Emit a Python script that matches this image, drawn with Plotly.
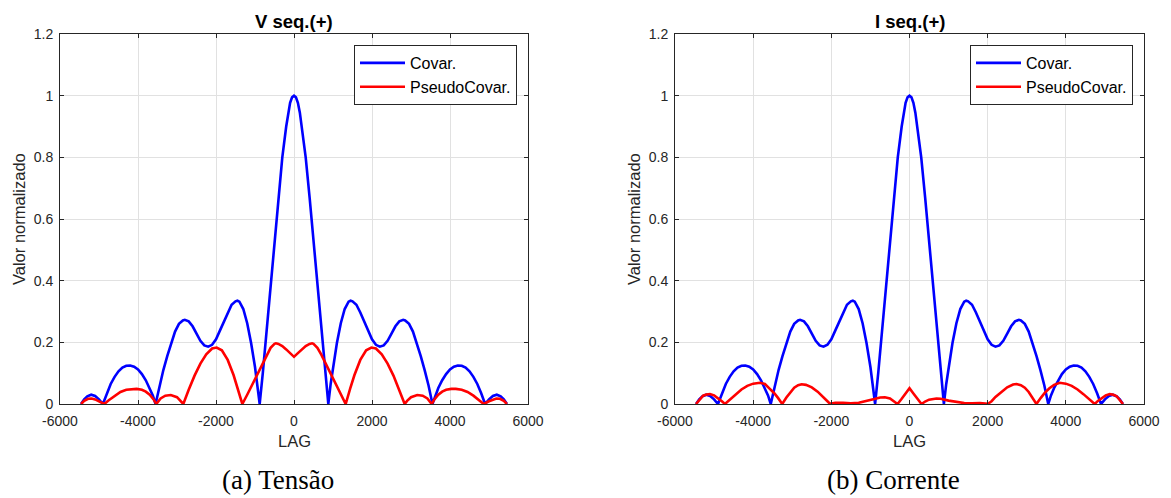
import plotly.graph_objects as go

# ---------------- data ----------------
# Covar. (same in both panels)
covar_lag = [-5460, -5380, -5300, -5200, -5100, -5000, -4900, -4800, -4700, -4600, -4500, -4400,
             -4300, -4200, -4100, -4000, -3900, -3800, -3700, -3620, -3550, -3450, -3350, -3250,
             -3150, -3050, -2950, -2850, -2800, -2700, -2600, -2500, -2400, -2300, -2200, -2100,
             -2000, -1900, -1800, -1700, -1600, -1500, -1450, -1400, -1300, -1200, -1100, -1000,
             -940, -880, -800, -700, -600, -500, -400, -300, -200, -150, -100, -50, 0,
             50, 100, 150, 200, 300, 400, 500, 600, 700, 800, 880, 940, 1000, 1100, 1200, 1300,
             1400, 1450, 1500, 1600, 1700, 1800, 1900, 2000, 2100, 2200, 2300, 2400, 2500, 2600,
             2700, 2800, 2850, 2950, 3050, 3150, 3250, 3350, 3450, 3550, 3620, 3700, 3800, 3900,
             4000, 4100, 4200, 4300, 4400, 4500, 4600, 4700, 4800, 4900, 5000, 5100, 5200, 5300,
             5380, 5460]
covar_val = [0, 0.015, 0.025, 0.03, 0.026, 0.015, 0, 0.035, 0.065, 0.088, 0.106, 0.118,
             0.124, 0.125, 0.121, 0.112, 0.097, 0.077, 0.052, 0.028, 0, 0.06, 0.11, 0.155,
             0.198, 0.235, 0.26, 0.271, 0.273, 0.268, 0.252, 0.228, 0.205, 0.19, 0.186, 0.192,
             0.21, 0.238, 0.267, 0.297, 0.322, 0.333, 0.335, 0.332, 0.308, 0.262, 0.198, 0.12,
             0.065, 0, 0.1, 0.245, 0.39, 0.53, 0.67, 0.8, 0.9, 0.945, 0.977, 0.995, 1.0,
             0.995, 0.977, 0.945, 0.9, 0.8, 0.67, 0.53, 0.39, 0.245, 0.1, 0, 0.065, 0.12, 0.198, 0.262, 0.308,
             0.332, 0.335, 0.333, 0.322, 0.297, 0.267, 0.238, 0.21, 0.192, 0.186, 0.19, 0.205, 0.228, 0.252,
             0.268, 0.273, 0.271, 0.26, 0.235, 0.198, 0.155, 0.11, 0.06, 0, 0.028, 0.052, 0.077, 0.097,
             0.112, 0.121, 0.125, 0.124, 0.118, 0.106, 0.088, 0.065, 0.035, 0, 0.015, 0.026, 0.03, 0.025,
             0.015, 0]

# PseudoCovar. - V seq.(+)
pseudo_v_lag = [-5460, -5380, -5280, -5190, -5100, -5000, -4864, -4750, -4600, -4450, -4300, -4150,
                -4034, -3900, -3800, -3700, -3600, -3530, -3420, -3300, -3160, -3000, -2900, -2838,
                -2700, -2550, -2400, -2250, -2100, -1983, -1850, -1700, -1550, -1440, -1325, -1200,
                -1050, -900, -800, -700, -600, -500, -462, -400, -300, -200, -100, 0,
                100, 200, 300, 400, 462, 500, 600, 700, 800, 900, 1050, 1200, 1325, 1440, 1550,
                1700, 1850, 1983, 2100, 2250, 2400, 2550, 2700, 2838, 2900, 3000, 3160, 3300, 3420,
                3530, 3600, 3700, 3800, 3900, 4034, 4150, 4300, 4450, 4600, 4750, 4864, 5000, 5100,
                5190, 5280, 5380, 5460]
pseudo_v_val = [0, 0.01, 0.017, 0.018, 0.015, 0.009, 0, 0.012, 0.027, 0.039, 0.046, 0.049,
                0.049, 0.046, 0.04, 0.03, 0.015, 0, 0.018, 0.027, 0.029, 0.022, 0.01, 0,
                0.046, 0.092, 0.131, 0.161, 0.18, 0.183, 0.174, 0.143, 0.094, 0.05, 0, 0.03,
                0.068, 0.108, 0.135, 0.16, 0.182, 0.195, 0.197, 0.195, 0.188, 0.177, 0.165, 0.153,
                0.165, 0.177, 0.188, 0.195, 0.197, 0.195, 0.182, 0.16, 0.135, 0.108, 0.068, 0.03, 0, 0.05, 0.094,
                0.143, 0.174, 0.183, 0.18, 0.161, 0.131, 0.092, 0.046, 0, 0.01, 0.022, 0.029, 0.027, 0.018,
                0, 0.015, 0.03, 0.04, 0.046, 0.049, 0.049, 0.046, 0.039, 0.027, 0.012, 0, 0.009, 0.015,
                0.018, 0.017, 0.01, 0]

# PseudoCovar. - I seq.(+)
pseudo_i_lag = [-5463, -5380, -5280, -5200, -5105, -5000, -4900, -4800, -4722, -4600, -4450, -4300,
                -4150, -4000, -3827, -3700, -3580, -3460, -3360, -3257, -3150, -3050, -2950, -2850,
                -2760, -2650, -2500, -2350, -2200, -2100, -2037, -1900, -1700, -1500, -1300, -1100,
                -900, -750, -630, -500, -400, -306, -200, -100, 0,
                100, 200, 307, 400, 500, 690, 800, 1000, 1200, 1400, 1600, 1800, 2011, 2100, 2200,
                2350, 2500, 2650, 2737, 2850, 2950, 3050, 3150, 3248, 3360, 3460, 3580, 3700, 3844,
                4000, 4150, 4300, 4450, 4600, 4739, 4820, 4920, 5020, 5122, 5220, 5300, 5390, 5463]
pseudo_i_val = [0, 0.014, 0.027, 0.031, 0.032, 0.028, 0.019, 0.009, 0, 0.014, 0.032, 0.047,
                0.059, 0.066, 0.069, 0.065, 0.05, 0.035, 0.019, 0, 0.021, 0.039, 0.053, 0.061,
                0.064, 0.062, 0.054, 0.04, 0.023, 0.009, 0.001, 0.004, 0.004, 0.002, 0.004, 0.009,
                0.016, 0.021, 0.022, 0.018, 0.01, 0, 0.017, 0.034, 0.051,
                0.034, 0.017, 0, 0.008, 0.014, 0.018, 0.017, 0.011, 0.006, 0.003, 0.002, 0.003, 0.001, 0.009, 0.023,
                0.04, 0.054, 0.063, 0.065, 0.061, 0.053, 0.039, 0.021, 0, 0.02, 0.036, 0.051, 0.062, 0.069,
                0.066, 0.059, 0.047, 0.032, 0.015, 0, 0.01, 0.02, 0.028, 0.032, 0.03, 0.025, 0.013, 0]

panel_titles = ["V seq.(+)", "I seq.(+)"]
captions = ["(a) Tensão", "(b) Corrente"]
series_names = ["Covar.", "PseudoCovar."]
x_ticks = [-6000, -4000, -2000, 0, 2000, 4000, 6000]
x_ticktext = ["-6000", "-4000", "-2000", "0", "2000", "4000", "6000"]
y_ticks = [0, 0.2, 0.4, 0.6, 0.8, 1.0, 1.2]
y_ticktext = ["0", "0.2", "0.4", "0.6", "0.8", "1", "1.2"]

# ---------------- figure ----------------
W, H = 1171, 498
SANS = "Liberation Sans, Arial, sans-serif"
AX = "#262626"
BLUE = "#0000ff"
RED = "#ff0000"

fig = go.Figure()

panels = [
    dict(xa="x", ya="y", legend="legend", pseudo=(pseudo_v_lag, pseudo_v_val)),
    dict(xa="x2", ya="y2", legend="legend2", pseudo=(pseudo_i_lag, pseudo_i_val)),
]
for p in panels:
    fig.add_trace(go.Scatter(x=covar_lag, y=covar_val, mode="lines", name=series_names[0],
                             line=dict(color=BLUE, width=2.6), xaxis=p["xa"], yaxis=p["ya"],
                             legend=p["legend"]))
    fig.add_trace(go.Scatter(x=p["pseudo"][0], y=p["pseudo"][1], mode="lines", name=series_names[1],
                             line=dict(color=RED, width=2.6), xaxis=p["xa"], yaxis=p["ya"],
                             legend=p["legend"]))

# pixel geometry
left_px = [(60, 528), (675, 1144)]
top_px, bot_px = 34, 404

def px_x(v):
    return v / W

def px_y(v):
    return 1 - v / H

axis_common = dict(showline=True, linecolor=AX, linewidth=1, mirror="allticks",
                   ticks="inside", ticklen=4, tickcolor=AX, showgrid=True,
                   gridcolor="#e1e1e1", gridwidth=1, zeroline=False, automargin=False,
                   tickfont=dict(family=SANS, size=14, color=AX))

layout_axes = {}
for i, (l, r) in enumerate(left_px):
    sx = "" if i == 0 else "2"
    layout_axes["xaxis" + sx] = dict(axis_common, domain=[px_x(l), px_x(r)], range=[-6000, 6000],
                                     tickvals=x_ticks, ticktext=x_ticktext,
                                     ticklabelstandoff=4, anchor="y" + sx)
    layout_axes["yaxis" + sx] = dict(axis_common, domain=[px_y(bot_px), px_y(top_px)], range=[0, 1.2],
                                     tickvals=y_ticks, ticktext=y_ticktext,
                                     ticklabelstandoff=3, anchor="x" + sx)

annotations = []
for i, (l, r) in enumerate(left_px):
    cx = (l + r) / 2
    annotations.append(dict(text="<b>%s</b>" % panel_titles[i], x=px_x(cx), y=px_y(22),
                            xref="paper", yref="paper", showarrow=False, xanchor="center", yanchor="middle",
                            font=dict(family=SANS, size=18.5, color="#000000")))
    annotations.append(dict(text="LAG", x=px_x(cx), y=px_y(441),
                            xref="paper", yref="paper", showarrow=False, xanchor="center", yanchor="middle",
                            font=dict(family=SANS, size=16.5, color=AX)))
    annotations.append(dict(text="Valor normalizado", x=px_x(l - 41), y=px_y((top_px + bot_px) / 2),
                            xref="paper", yref="paper", showarrow=False, textangle=-90,
                            xanchor="center", yanchor="middle",
                            font=dict(family=SANS, size=16.5, color=AX)))
cap_centers = [278, 893]
for i, c in enumerate(cap_centers):
    annotations.append(dict(text=captions[i], x=px_x(c), y=px_y(480),
                            xref="paper", yref="paper", showarrow=False, xanchor="center", yanchor="middle",
                            font=dict(family="Liberation Serif, Times New Roman, serif", size=27, color="#000000")))

legend_common = dict(bgcolor="#ffffff", bordercolor=AX, borderwidth=1,
                     font=dict(family=SANS, size=16, color="#000000"),
                     xanchor="right", yanchor="top", tracegroupgap=0, itemwidth=45)

fig.update_layout(
    template="none",
    width=W, height=H,
    margin=dict(l=0, r=0, t=0, b=0),
    paper_bgcolor="#ffffff", plot_bgcolor="#ffffff",
    annotations=annotations,
    legend=dict(legend_common, x=px_x(517), y=px_y(45)),
    legend2=dict(legend_common, x=px_x(1133), y=px_y(45)),
    **layout_axes,
)

fig.write_html("out.html")
